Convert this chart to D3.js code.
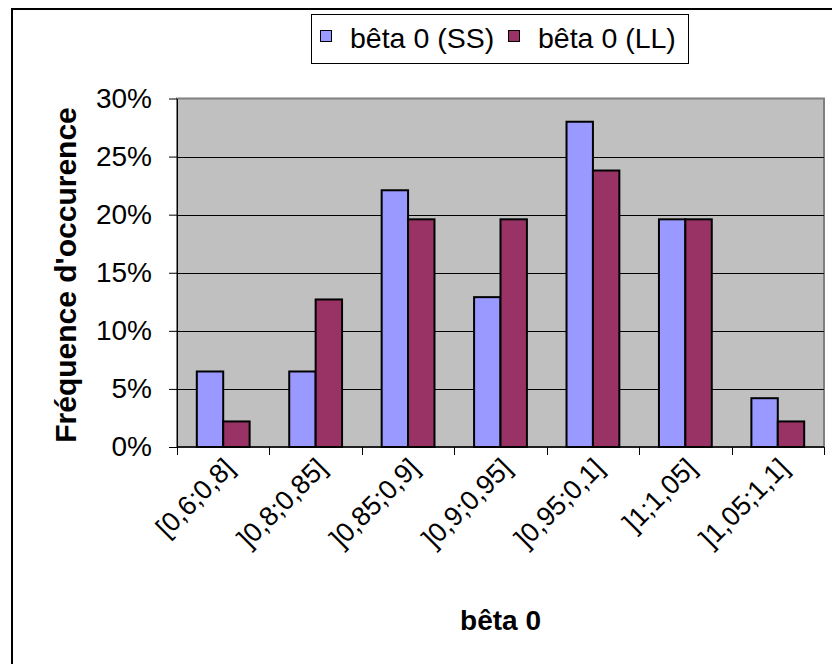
<!DOCTYPE html>
<html>
<head>
<meta charset="utf-8">
<script src="https://cdn.jsdelivr.net/npm/d3@7"></script>
<style>
  body { margin: 0; background: #fff; }
  svg { display: block; font-family: "Liberation Sans", Arial, sans-serif; }
</style>
</head>
<body>
<script>
// les données
var categories = ["[0,6;0,8]", "]0,8;0,85]", "]0,85;0,9]", "]0,9;0,95]", "]0,95;0,1]", "]1;1,05]", "]1,05;1,1]"];
var seriesNames = ["bêta 0 (SS)", "bêta 0 (LL)"];
var valuesSS = [0.065, 0.065, 0.221, 0.129, 0.280, 0.196, 0.042];
var valuesLL = [0.022, 0.127, 0.196, 0.196, 0.238, 0.196, 0.022];
var yTicks = [0, 0.05, 0.10, 0.15, 0.20, 0.25, 0.30];
var colors = ["#9999FF", "#993366"];

var W = 832, H = 664;
var plot = {left: 177, right: 824, top: 98.5, bottom: 447};

var svg = d3.select("body").append("svg")
    .attr("width", W)
    .attr("height", H);

// cadre extérieur
svg.append("rect")
    .attr("x", 12).attr("y", 9)
    .attr("width", W).attr("height", H)
    .attr("fill", "#fff")
    .attr("stroke", "#000")
    .attr("stroke-width", 2);

var x0 = d3.scaleBand()
    .domain(categories)
    .range([plot.left, plot.right]);

// largeur d'intervalle 150% comme dans Excel
var gap = x0.bandwidth() * 0.75 / 3.5;
var x1 = d3.scaleBand()
    .domain(seriesNames)
    .range([gap, x0.bandwidth() - gap]);

var y = d3.scaleLinear()
    .domain([0, 0.30])
    .range([plot.bottom, plot.top]);

// fond de la zone de traçage
svg.append("rect")
    .attr("x", plot.left).attr("y", plot.top)
    .attr("width", plot.right - plot.left)
    .attr("height", plot.bottom - plot.top)
    .attr("fill", "#C0C0C0")
    .attr("stroke", "#808080")
    .attr("stroke-width", 2);

// quadrillage
svg.append("g")
    .selectAll("line")
    .data(yTicks.filter(function(d) { return d > 0 && d < 0.30; }))
    .enter().append("line")
      .attr("x1", plot.left).attr("x2", plot.right)
      .attr("y1", function(d) { return Math.round(y(d)) + 0.5; })
      .attr("y2", function(d) { return Math.round(y(d)) + 0.5; })
      .attr("stroke", "#000")
      .attr("stroke-width", 1);

// barres
var data = categories.map(function(c, i) {
  return {cat: c, vals: [valuesSS[i], valuesLL[i]]};
});

svg.append("g")
  .selectAll("g")
  .data(data)
  .enter().append("g")
    .attr("transform", function(d) { return "translate(" + x0(d.cat) + ",0)"; })
  .selectAll("rect")
  .data(function(d) { return seriesNames.map(function(s, k) { return {key: s, k: k, value: d.vals[k]}; }); })
  .enter().append("rect")
    .attr("x", function(d) { return x1(d.key); })
    .attr("y", function(d) { return y(d.value); })
    .attr("width", x1.bandwidth())
    .attr("height", function(d) { return plot.bottom - y(d.value); })
    .attr("fill", function(d) { return colors[d.k]; })
    .attr("stroke", "#000")
    .attr("stroke-width", 2);

// axe Y
var yAxis = d3.axisLeft(y)
    .tickValues(yTicks)
    .tickFormat(d3.format(".0%"))
    .tickSizeInner(8)
    .tickSizeOuter(0)
    .tickPadding(17);

var gy = svg.append("g")
    .attr("transform", "translate(" + plot.left + ",0)")
    .call(yAxis);
gy.select(".domain").attr("stroke", "#000").attr("stroke-width", 1);
gy.selectAll(".tick line").attr("stroke", "#000");
gy.selectAll(".tick text")
    .attr("font-size", 28)
    .attr("font-family", "Liberation Sans, Arial, sans-serif")
    .attr("fill", "#000");

// axe X : traits aux limites des catégories
var bounds = categories.map(function(c) { return x0(c); }).concat([plot.right]);
svg.append("line")
    .attr("x1", plot.left).attr("x2", plot.right)
    .attr("y1", plot.bottom).attr("y2", plot.bottom)
    .attr("stroke", "#000").attr("stroke-width", 1.5);
svg.append("g")
  .selectAll("line")
  .data(bounds)
  .enter().append("line")
    .attr("x1", function(d) { return Math.round(d) + 0.5; })
    .attr("x2", function(d) { return Math.round(d) + 0.5; })
    .attr("y1", plot.bottom).attr("y2", plot.bottom + 8)
    .attr("stroke", "#000");

svg.append("g")
  .selectAll("text")
  .data(categories)
  .enter().append("text")
    .attr("transform", function(d) {
      return "translate(" + (x0(d) + x0.bandwidth() / 2 + 6) + "," + (plot.bottom + 16) + ") rotate(-45)";
    })
    .attr("text-anchor", "end")
    .attr("dy", "0.35em")
    .attr("font-size", 27)
    .text(function(d) { return d; });

// titres des axes
svg.append("text")
    .attr("x", (plot.left + plot.right) / 2)
    .attr("y", 630)
    .attr("text-anchor", "middle")
    .attr("font-size", 28)
    .attr("font-weight", "bold")
    .text("bêta 0");

svg.append("text")
    .attr("transform", "translate(65,275) rotate(-90)")
    .attr("text-anchor", "middle")
    .attr("dy", "0.35em")
    .attr("font-size", 30)
    .attr("font-weight", "bold")
    .text("Fréquence d'occurence");

// légende
svg.append("rect")
    .attr("x", 311.5).attr("y", 14.5)
    .attr("width", 377).attr("height", 49)
    .attr("fill", "#fff")
    .attr("stroke", "#000")
    .attr("stroke-width", 1);

var legendX = [320, 508];
var legend = svg.append("g")
  .selectAll("g")
  .data(seriesNames)
  .enter().append("g")
    .attr("transform", function(d, i) { return "translate(" + legendX[i] + ",0)"; });

legend.append("rect")
    .attr("x", 0.5).attr("y", 30.5)
    .attr("width", 11).attr("height", 11)
    .attr("fill", function(d, i) { return colors[i]; })
    .attr("stroke", "#000")
    .attr("stroke-width", 1);

legend.append("text")
    .attr("x", 30)
    .attr("y", 48)
    .attr("font-size", 28.5)
    .text(function(d) { return d; });
</script>
</body>
</html>
